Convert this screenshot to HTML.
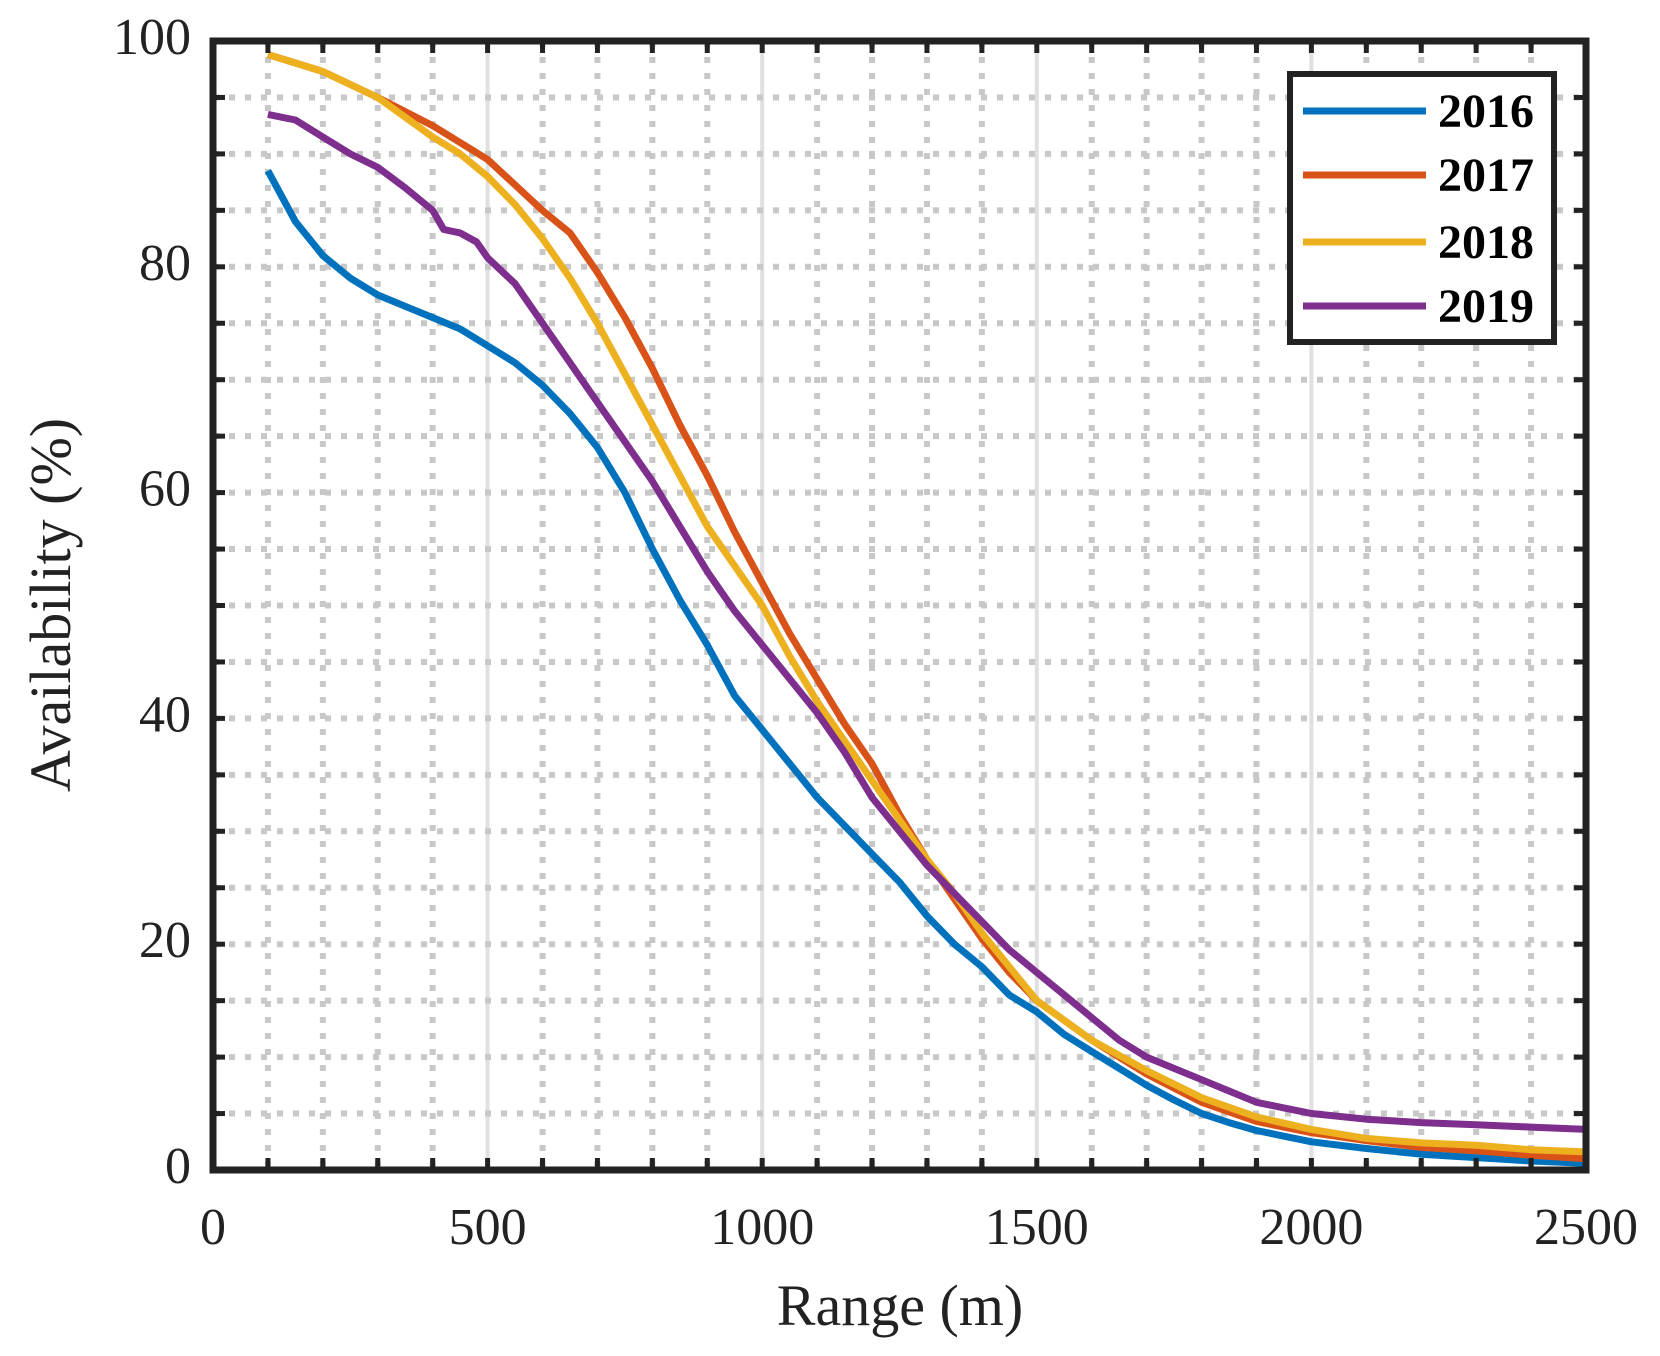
<!DOCTYPE html>
<html><head><meta charset="utf-8"><style>
html,body{margin:0;padding:0;background:#fff}
svg{display:block}
text{font-family:"Liberation Serif",serif;fill:#222}
</style></head><body>
<svg id="chart" width="1660" height="1356" viewBox="0 0 1660 1356">
<g id="grid"></g>
<g id="series"></g>
<g id="axes"></g>
<g id="legend"></g>
</svg>
<script>
const xTicks=[0,500,1000,1500,2000,2500];
const yTicks=[0,20,40,60,80,100];
const years=["2016","2017","2018","2019"];
const colors=["#0072BD","#D95319","#EDB120","#7E2F8E"];
const x2016=[100,150,200,250,300,350,400,450,500,550,600,650,700,750,800,850,900,950,1000,1050,1100,1150,1200,1250,1300,1350,1400,1450,1500,1550,1600,1650,1700,1750,1800,1850,1900,2000,2100,2200,2300,2400,2500];
const y2016=[88.5,84,81,79,77.5,76.5,75.5,74.5,73,71.5,69.5,67,64,60,55,50.5,46.5,42,39,36,33,30.5,28,25.5,22.5,20,18,15.5,14,12,10.5,9,7.5,6.2,5,4.2,3.5,2.5,1.9,1.4,1.1,0.8,0.6];
const x2017=[100,200,300,400,500,600,650,700,750,800,850,900,950,1000,1050,1100,1150,1200,1250,1300,1350,1400,1450,1500,1600,1700,1800,1900,2000,2100,2200,2300,2400,2500];
const y2017=[98.8,97.3,95,92.5,89.5,85,83,79.5,75.5,71,66,61.5,56.5,52,47.5,43.5,39.5,36,31.5,27.5,24,20.5,17.5,15,11.5,8.5,6,4.3,3.3,2.6,2.0,1.7,1.3,1.0];
const x2018=[100,200,300,400,450,500,550,600,650,700,750,800,850,900,950,1000,1050,1100,1150,1200,1250,1300,1350,1400,1450,1500,1600,1700,1800,1900,2000,2100,2200,2300,2400,2500];
const y2018=[98.8,97.3,95,91.5,90,88,85.5,82.5,79,75,70.5,66,61.5,57,53.5,50,45.5,41.5,38,34.5,31,27.5,24.5,21,18,15,11.5,8.8,6.4,4.7,3.6,2.8,2.4,2.2,1.8,1.6];
const x2019=[100,150,200,250,300,350,400,420,450,480,500,550,600,650,700,750,800,850,900,950,1000,1050,1100,1150,1200,1250,1300,1350,1400,1450,1500,1550,1600,1650,1700,1800,1850,1900,1950,2000,2100,2200,2300,2400,2500];
const y2019=[93.5,93,91.5,90,88.8,87,85,83.3,83,82.2,80.8,78.5,75,71.5,68,64.5,61,57,53,49.5,46.5,43.5,40.5,37,33,30,27,24.5,22,19.5,17.5,15.5,13.5,11.5,10,8,7,6,5.5,5.0,4.5,4.2,4.0,3.8,3.6];
const seriesX=[x2016,x2017,x2018,x2019];
const seriesY=[y2016,y2017,y2018,y2019];

const L=213,R=1586,T=41,B=1170;
const sx=v=>L+(v/2500)*(R-L);
const sy=v=>B-(v/100)*(B-T);
const NS="http://www.w3.org/2000/svg";
function mk(tag,attrs,parent){const e=document.createElementNS(NS,tag);for(const k in attrs)e.setAttribute(k,attrs[k]);parent.appendChild(e);return e;}
const grid=document.getElementById('grid'),axes=document.getElementById('axes'),ser=document.getElementById('series'),leg=document.getElementById('legend');

for(let v=100;v<2500;v+=100){
  const major=v%500===0;
  const g=mk('line',{x1:sx(v),x2:sx(v),y1:T,y2:B,stroke:major?'#e0e0e0':'#c8c8c8','stroke-width':major?4:6,'stroke-dasharray':major?'none':'6 10'},grid);
  
  
}
for(let v=5;v<100;v+=5){
  const g=mk('line',{x1:L,x2:R,y1:sy(v),y2:sy(v),stroke:'#c8c8c8','stroke-width':6,'stroke-dasharray':'6 10'},grid);
  
  
}
seriesX.forEach((xs,i)=>{
  const d=xs.map((x,j)=>(j?'L':'M')+sx(x).toFixed(1)+' '+sy(seriesY[i][j]).toFixed(1)).join(' ');
  const p=mk('path',{d:d,fill:'none',stroke:colors[i],'stroke-width':7,'stroke-linejoin':'round'},ser);
  
  
});
for(let v=100;v<2500;v+=100){
  mk('line',{x1:sx(v),x2:sx(v),y1:T,y2:T+12,stroke:'#222','stroke-width':5},axes);
  mk('line',{x1:sx(v),x2:sx(v),y1:B,y2:B-12,stroke:'#222','stroke-width':5},axes);
}
for(let v=5;v<100;v+=5){
  mk('line',{x1:L,x2:L+12,y1:sy(v),y2:sy(v),stroke:'#222','stroke-width':5},axes);
  mk('line',{x1:R,x2:R-12,y1:sy(v),y2:sy(v),stroke:'#222','stroke-width':5},axes);
}
const frame=mk('rect',{x:L,y:T,width:R-L,height:B-T,fill:'none',stroke:'#222','stroke-width':7},axes);


xTicks.forEach(v=>{
  const t=mk('text',{x:sx(v),y:1244,'text-anchor':'middle','font-size':52},axes);t.textContent=v;
  
  
});
yTicks.forEach(v=>{
  const t=mk('text',{x:191,y:sy(v)+13,'text-anchor':'end','font-size':52},axes);t.textContent=v;
  
  
});
const xt=mk('text',{x:900,y:1325,'text-anchor':'middle','font-size':58},axes);xt.textContent='Range (m)';


const yt=mk('text',{x:0,y:0,'text-anchor':'middle','font-size':58,transform:'translate(70,605) rotate(-90)'},axes);yt.textContent='Availability (%)';


const lb=mk('rect',{x:1290,y:74,width:264,height:268,fill:'#fff',stroke:'#222','stroke-width':6},leg);


const ly=[111,175,242,306];
years.forEach((yr,i)=>{
  const g=mk('g',{},leg);
  
  
  mk('line',{x1:1303,x2:1426,y1:ly[i],y2:ly[i],stroke:colors[i],'stroke-width':7},g);
  const t=mk('text',{x:1438,y:ly[i]+16,'font-size':48,'font-weight':'bold'},g);t.textContent=yr;
  t.style.fill='#000';
});
</script>
</body></html>
